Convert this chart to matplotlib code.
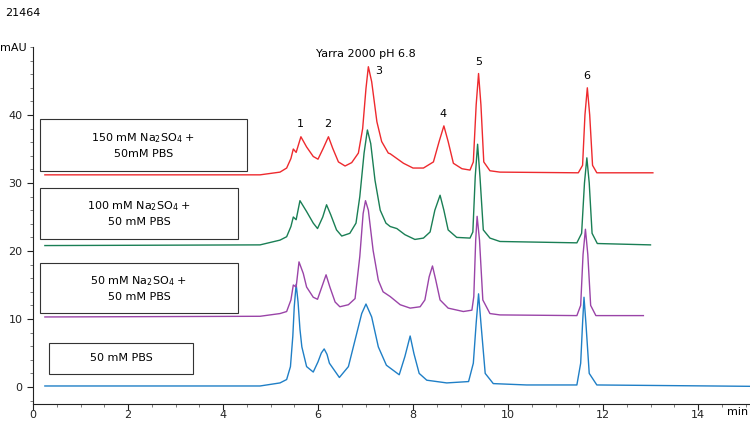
import matplotlib
matplotlib.use("Agg")
import matplotlib.pyplot as plt
import matplotlib.patches as patches

# retention time (min) / absorbance (mAU)
blue_t = [0.25, 4.78, 5.2, 5.34, 5.42, 5.47, 5.5, 5.54, 5.58, 5.62, 5.66, 5.76, 5.9,
          6.0, 6.07, 6.13, 6.19, 6.24, 6.45, 6.64, 6.78, 6.92, 7.01, 7.13, 7.27,
          7.44, 7.71, 7.83, 7.94, 8.02, 8.13, 8.29, 8.71, 9.17, 9.27, 9.33, 9.38,
          9.43, 9.52, 9.69, 10.39, 11.45, 11.53, 11.57, 11.6, 11.64, 11.71, 11.87,
          15.1]
blue_y = [0.15, 0.15, 0.6, 1.1, 3.0, 7.5, 11.8, 15.1, 12.5, 8.5, 5.9, 3.0, 2.2,
          3.7, 5.0, 5.6, 4.8, 3.5, 1.4, 3.0, 6.9, 10.8, 12.2, 10.3, 5.9,
          3.2, 1.8, 4.5, 7.5, 4.9, 2.0, 1.0, 0.6, 0.8, 3.5, 9.4, 13.7,
          9.4, 2.0, 0.5, 0.3, 0.3, 3.5, 9.4, 13.2, 9.4, 2.0, 0.3,
          0.1]

purple_t = [0.25, 4.78, 5.2, 5.34, 5.43, 5.48, 5.54, 5.6, 5.69, 5.76, 5.9, 5.99,
            6.08, 6.17, 6.25, 6.36, 6.46, 6.64, 6.78, 6.88, 6.95, 7.0, 7.06, 7.16,
            7.27, 7.37, 7.52, 7.73, 7.94, 8.15, 8.25, 8.34, 8.41, 8.48, 8.57, 8.74,
            9.06, 9.24, 9.28, 9.32, 9.35, 9.4, 9.47, 9.62, 9.83, 11.45, 11.53,
            11.58, 11.63, 11.68, 11.74, 11.85, 12.85]
purple_y = [10.3, 10.4, 10.8, 11.1, 12.8, 15.0, 14.7, 18.4, 16.7, 14.7, 13.2, 12.9,
            14.7, 16.5, 14.7, 12.5, 11.8, 12.1, 13.0, 19.2, 25.5, 27.4, 26.0, 20.1,
            15.7, 14.0, 13.3, 12.1, 11.6, 11.8, 12.8, 16.2, 17.8, 15.7, 12.8, 11.6,
            11.1, 11.3, 13.3, 21.6, 25.1, 21.6, 12.8, 10.8, 10.6, 10.5, 12.0,
            19.5, 23.2, 19.5, 12.0, 10.5, 10.5]

green_t = [0.25, 4.78, 5.2, 5.34, 5.43, 5.48, 5.54, 5.62, 5.76, 5.9, 5.99, 6.1,
           6.18, 6.27, 6.39, 6.5, 6.67, 6.8, 6.88, 6.97, 7.04, 7.11, 7.2, 7.31,
           7.43, 7.52, 7.66, 7.83, 8.04, 8.22, 8.36, 8.46, 8.57, 8.65, 8.74, 8.92,
           9.2, 9.26, 9.31, 9.36, 9.41, 9.48, 9.62, 9.83, 11.45, 11.55, 11.61,
           11.66, 11.71, 11.77, 11.88, 13.0]
green_y = [20.8, 20.9, 21.6, 22.1, 23.6, 25.0, 24.6, 27.4, 25.8, 24.1, 23.3, 25.0,
           26.8, 25.3, 23.1, 22.2, 22.6, 24.1, 28.0, 34.4, 37.8, 35.8, 30.4, 26.0,
           24.1, 23.6, 23.3, 22.4, 21.7, 21.9, 22.8, 26.0, 28.2, 26.0, 23.1, 22.0,
           21.9, 22.8, 30.9, 35.7, 30.9, 23.1, 21.9, 21.4, 21.2, 22.6, 30.0,
           33.7, 30.0, 22.6, 21.1, 20.9]

red_t = [0.25, 4.78, 5.2, 5.34, 5.43, 5.48, 5.54, 5.64, 5.76, 5.9, 6.0, 6.11,
         6.22, 6.31, 6.43, 6.57, 6.71, 6.85, 6.94, 7.01, 7.06, 7.13, 7.24, 7.34,
         7.48, 7.52, 7.8, 8.0, 8.22, 8.43, 8.55, 8.65, 8.74, 8.85, 9.03, 9.2,
         9.27, 9.33, 9.38, 9.43, 9.49, 9.62, 9.83, 11.48, 11.57, 11.62, 11.67,
         11.72, 11.78, 11.87, 13.05]
red_y = [31.2, 31.2, 31.6, 32.2, 33.6, 35.0, 34.5, 36.8, 35.3, 33.9, 33.5, 35.1,
         36.8, 35.1, 33.1, 32.5, 33.0, 34.4, 38.0, 43.9, 47.1, 44.9, 39.0, 36.1,
         34.4, 34.3, 32.9, 32.2, 32.2, 33.1, 36.1, 38.4, 36.1, 32.9, 32.1, 31.9,
         33.1, 41.5, 46.1, 41.5, 33.1, 31.8, 31.6, 31.5, 32.6, 40.0, 44.0,
         40.0, 32.6, 31.5, 31.5]

peak_names = ["1", "2", "3", "4", "5", "6"]
peak_label_t = [5.62, 6.21, 7.28, 8.63, 9.39, 11.66]
peak_label_y = [38.0, 38.0, 45.8, 39.4, 47.0, 45.0]

legend_texts = ["150 mM Na$_2$SO$_4$ +\n50mM PBS",
                "100 mM Na$_2$SO$_4$ +\n50 mM PBS",
                "50 mM Na$_2$SO$_4$ +\n50 mM PBS",
                "50 mM PBS"]

RED, GREEN, PURPLE, BLUE = "#ee2a2e", "#1a7f55", "#9a44a8", "#1f7fc6"

fig = plt.figure(figsize=(7.5, 4.21), dpi=100)
ax = fig.add_axes([33 / 750, 17 / 421, 717 / 750, 357 / 421])

ax.plot(blue_t, blue_y, color=BLUE, lw=1.0)
ax.plot(purple_t, purple_y, color=PURPLE, lw=1.0)
ax.plot(green_t, green_y, color=GREEN, lw=1.0)
ax.plot(red_t, red_y, color=RED, lw=1.0)

for name, t, y in zip(peak_names, peak_label_t, peak_label_y):
    ax.text(t, y, name, ha="center", va="bottom", fontsize=8)

# label boxes (x0, y0, x1, y1 in data units)
boxes = [(0.15, 31.8, 4.5, 39.4), (0.15, 21.8, 4.31, 29.3),
         (0.15, 10.9, 4.31, 18.2), (0.34, 1.9, 3.37, 6.5)]
for (x0, y0, x1, y1), txt in zip(boxes, legend_texts):
    ax.add_patch(patches.Rectangle((x0, y0), x1 - x0, y1 - y0, fill=False,
                                   edgecolor="#333333", lw=0.8))
    ax.text((x0 + x1) / 2, (y0 + y1) / 2, txt, ha="center", va="center",
            fontsize=8, linespacing=1.5)

ax.text(7.0, 49.0, "Yarra 2000 pH 6.8", ha="center", va="center", fontsize=8)

ax.set_xlim(0, 717 / 47.5)
ax.set_ylim(-2.5, 50)
ax.set_xticks([0, 2, 4, 6, 8, 10, 12, 14])
ax.set_yticks([0, 10, 20, 30, 40])
ax.set_xticks([i * 0.5 for i in range(31)], minor=True)
ax.set_yticks([i * 2 for i in range(-1, 26)], minor=True)
ax.tick_params(which="major", direction="out", length=4, width=0.8,
               labelsize=8, colors="#222222")
ax.tick_params(axis="x", which="major", pad=0.5)
ax.tick_params(which="minor", direction="out", length=2, width=0.6,
               colors="#666666")
ax.spines["top"].set_visible(False)
ax.spines["right"].set_visible(False)
for s in ("left", "bottom"):
    ax.spines[s].set_linewidth(0.8)
    ax.spines[s].set_color("#222222")

fig.text(5 / 750, 1 - 13 / 421, "21464", fontsize=8, va="center", ha="left")
fig.text(0 / 750, 1 - 48 / 421, "mAU", fontsize=8, va="center", ha="left")
fig.text(748 / 750, 1 - 412 / 421, "min", fontsize=8, va="center", ha="right")

fig.savefig("out.png", dpi=100)
